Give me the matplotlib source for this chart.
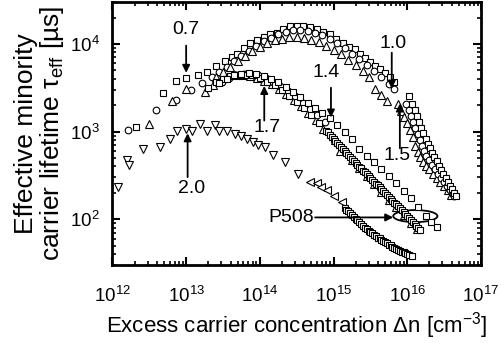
import matplotlib
matplotlib.use("Agg")
import matplotlib.pyplot as plt
import numpy as np
from matplotlib.patches import Ellipse

plt.rcParams['font.family'] = ['Liberation Sans', 'DejaVu Sans']
plt.rcParams['mathtext.fontset'] = 'custom'
plt.rcParams['mathtext.rm'] = 'Liberation Sans'
plt.rcParams['mathtext.it'] = 'Liberation Sans:italic'
plt.rcParams['mathtext.bf'] = 'Liberation Sans:bold'

# Measured lifetime curves, stored as log10 values:
# log10(excess carrier density / cm^-3), log10(lifetime / us)

# sample group labelled 0.7 -> 1.0
A_sq_x = [12.32, 12.69, 12.86, 13.00, 13.16, 13.28, 13.41, 13.53, 13.62, 13.69, 13.78, 13.87,
          13.96, 14.05, 14.14, 14.23, 14.32, 14.41, 14.50, 14.59, 14.68, 14.77, 14.86, 14.95,
          15.04, 15.13, 15.21, 15.29, 15.36, 15.43, 15.50, 15.56, 15.63, 15.70, 15.76, 15.82]
A_sq_y = [3.05, 3.44, 3.58, 3.61, 3.64, 3.68, 3.75, 3.81, 3.85, 3.89, 3.95, 4.01,
          4.05, 4.08, 4.11, 4.13, 4.17, 4.20, 4.21, 4.20, 4.19, 4.17, 4.14, 4.11,
          4.06, 4.01, 3.97, 3.94, 3.89, 3.84, 3.79, 3.75, 3.71, 3.67, 3.62, 3.57]
A_ci_x = [12.21, 12.59, 12.86, 13.07, 13.22, 13.35, 13.45, 13.55, 13.65, 13.75, 13.85, 13.95,
          14.05, 14.15, 14.25, 14.35, 14.45, 14.55, 14.65, 14.75, 14.85, 14.95, 15.05, 15.15,
          15.25, 15.35, 15.45, 15.55, 15.65, 15.75, 15.82]
A_ci_y = [3.02, 3.25, 3.36, 3.47, 3.55, 3.62, 3.68, 3.74, 3.80, 3.86, 3.92, 3.98,
          4.03, 4.07, 4.11, 4.14, 4.16, 4.16, 4.15, 4.13, 4.10, 4.06, 4.01, 3.95,
          3.89, 3.83, 3.76, 3.69, 3.62, 3.54, 3.48]
A_tr_x = [12.50, 12.81, 13.00, 13.40, 13.50, 13.60, 13.70, 13.80, 13.90, 14.00, 14.10, 14.20,
          14.30, 14.40, 14.50, 14.60, 14.70, 14.80, 14.90, 15.00, 15.10, 15.20, 15.30, 15.40,
          15.48, 15.56, 15.64, 15.72]
A_tr_y = [3.09, 3.35, 3.49, 3.62, 3.68, 3.74, 3.80, 3.86, 3.92, 3.97, 4.01, 4.04,
          4.06, 4.08, 4.08, 4.07, 4.05, 4.02, 3.98, 3.93, 3.88, 3.82, 3.76, 3.69,
          3.62, 3.49, 3.42, 3.35]

# sample group labelled 1.5 (high injection)
B_sq_x = [16.03, 16.07, 16.10, 16.13, 16.16, 16.19, 16.22, 16.25, 16.28, 16.31, 16.34, 16.37,
          16.40, 16.43, 16.46, 16.49, 16.52, 16.55, 16.58, 16.61, 16.64, 16.66]
B_sq_y = [3.40, 3.32, 3.25, 3.18, 3.11, 3.04, 2.98, 2.92, 2.86, 2.81, 2.76, 2.71,
          2.66, 2.61, 2.56, 2.51, 2.47, 2.42, 2.38, 2.34, 2.30, 2.27]
B_ci_x = [15.99, 16.02, 16.05, 16.08, 16.11, 16.14, 16.17, 16.20, 16.23, 16.26, 16.30, 16.34,
          16.38, 16.42, 16.46, 16.50, 16.54, 16.58, 16.62, 16.64]
B_ci_y = [3.31, 3.25, 3.18, 3.11, 3.04, 2.97, 2.90, 2.84, 2.78, 2.72, 2.67, 2.62,
          2.57, 2.52, 2.47, 2.42, 2.38, 2.33, 2.29, 2.26]
B_tr_x = [15.88, 15.92, 15.96, 16.00, 16.04, 16.08, 16.11, 16.14, 16.17, 16.21, 16.25, 16.30,
          16.35, 16.40, 16.45, 16.50, 16.55, 16.60]
B_tr_y = [3.31, 3.24, 3.17, 3.10, 3.02, 2.94, 2.84, 2.77, 2.71, 2.65, 2.61, 2.57,
          2.52, 2.47, 2.43, 2.38, 2.33, 2.28]

# sample group labelled 1.7 / 1.4
C_up_x = [13.45, 13.55, 13.65, 13.75, 13.85, 13.95, 14.05, 14.15, 14.25, 14.35, 14.45, 14.55,
          14.65, 14.75, 14.85, 14.95, 15.05, 15.15, 15.25, 15.35, 15.45, 15.55, 15.65, 15.75,
          15.85, 15.95, 16.05, 16.15, 16.25, 16.32, 16.40]
C_up_y = [3.55, 3.60, 3.64, 3.66, 3.67, 3.66, 3.63, 3.60, 3.56, 3.51, 3.45, 3.39,
          3.33, 3.27, 3.21, 3.15, 3.07, 2.99, 2.91, 2.80, 2.72, 2.65, 2.57, 2.49,
          2.41, 2.32, 2.24, 2.14, 2.04, 1.97, 1.91]
C_lo_x = [13.30, 13.40, 13.50, 13.60, 13.70, 13.80, 13.90, 14.00, 14.10, 14.20, 14.30, 14.40,
          14.50, 14.60, 14.70, 14.80, 14.90,
          14.925, 14.950, 14.975, 15.000, 15.025, 15.050, 15.075, 15.100, 15.125, 15.150,
          15.175, 15.200, 15.225, 15.250, 15.275, 15.300, 15.325, 15.350, 15.375, 15.400,
          15.425, 15.450, 15.475, 15.500, 15.525, 15.550, 15.575, 15.600, 15.625, 15.650,
          15.675, 15.700, 15.725, 15.750, 15.775, 15.800, 15.825, 15.850, 15.875, 15.900,
          15.925, 15.950, 15.975, 16.000, 16.025, 16.050, 16.075, 16.100, 16.125, 16.150,
          16.170]
C_lo_y = [3.50, 3.56, 3.60, 3.63, 3.65, 3.65, 3.64, 3.61, 3.57, 3.53, 3.47, 3.41,
          3.34, 3.27, 3.19, 3.10, 3.01,
          2.99, 2.965, 2.94, 2.92, 2.895, 2.87, 2.85, 2.825, 2.80, 2.78,
          2.755, 2.73, 2.71, 2.685, 2.665, 2.64, 2.62, 2.60, 2.58, 2.555,
          2.535, 2.515, 2.49, 2.47, 2.45, 2.43, 2.405, 2.385, 2.365, 2.34,
          2.32, 2.30, 2.275, 2.255, 2.235, 2.21, 2.19, 2.17, 2.145, 2.125,
          2.10, 2.08, 2.06, 2.035, 2.01, 1.99, 1.965, 1.945, 1.92, 1.90,
          1.88]
C_tr_x = [13.26, 13.36, 13.46, 13.56, 13.66, 13.76, 13.86, 13.96, 14.06, 14.16, 14.26, 14.36,
          14.46, 14.56, 14.66, 14.76, 14.86, 15.02, 15.09, 15.25, 15.35, 15.45, 15.55, 15.65,
          15.75, 15.85, 15.95, 16.05, 16.13]
C_tr_y = [3.45, 3.53, 3.58, 3.62, 3.64, 3.64, 3.63, 3.61, 3.58, 3.54, 3.49, 3.43,
          3.36, 3.29, 3.21, 3.13, 3.03, 2.90, 2.78, 2.67, 2.58, 2.49, 2.40, 2.31,
          2.22, 2.14, 2.05, 1.96, 1.89]
C_ci_x = [13.48, 13.58, 13.68, 13.78, 13.88, 13.98, 14.08, 14.18, 14.28, 14.38, 14.48, 14.58,
          14.68, 14.78, 14.88]
C_ci_y = [3.56, 3.61, 3.645, 3.66, 3.655, 3.64, 3.61, 3.57, 3.52, 3.46, 3.40, 3.33,
          3.26, 3.19, 3.11]

# sample group labelled 2.0 (P508)
D_dn_x = [12.07, 12.20, 12.22, 12.41, 12.64, 12.78, 12.87, 13.00, 13.08, 13.19, 13.28, 13.39,
          13.45, 13.56, 13.66, 13.75, 13.82, 13.91, 13.98, 14.07, 14.18, 14.34, 14.52]
D_dn_y = [2.37, 2.68, 2.62, 2.80, 2.82, 2.91, 3.01, 3.03, 3.01, 3.09, 3.01, 3.07,
          3.01, 3.01, 2.97, 2.95, 2.92, 2.88, 2.85, 2.82, 2.73, 2.65, 2.52]
D_lt_x = [14.68, 14.77, 14.83, 14.91, 15.00, 15.11]
D_lt_y = [2.42, 2.41, 2.37, 2.33, 2.27, 2.20]
D_dm_x = [15.150, 15.175, 15.200, 15.225, 15.250, 15.275, 15.300, 15.325, 15.350, 15.375,
          15.400, 15.425, 15.450, 15.475, 15.500, 15.525, 15.550, 15.575, 15.600, 15.625,
          15.650, 15.675, 15.700, 15.725, 15.750, 15.775, 15.800, 15.825, 15.850, 15.875,
          15.900, 15.925, 15.950, 15.975, 16.000, 16.025, 16.060]
D_dm_y = [2.13, 2.11, 2.09, 2.065, 2.045, 2.025, 2.005, 1.985, 1.965, 1.945,
          1.925, 1.905, 1.89, 1.87, 1.855, 1.84, 1.82, 1.805, 1.79, 1.78,
          1.765, 1.75, 1.735, 1.725, 1.71, 1.70, 1.685, 1.675, 1.665, 1.65,
          1.64, 1.63, 1.62, 1.61, 1.60, 1.59, 1.575]

# curve labels: text, text position, arrow tail, arrow tip (log10 coords)
labels = ["0.7", "1.0", "1.4", "1.5", "1.7", "2.0"]
label_pos = [(13.0, 4.17), (15.81, 4.01), (14.90, 3.67), (15.86, 2.73), (14.10, 3.05), (13.07, 2.35)]
arrow_tail = [(13.0, 3.98), (15.79, 3.90), (14.965, 3.50), (15.90, 2.81), (14.06, 3.125), (13.02, 2.48)]
arrow_tip = [(13.0, 3.67), (15.79, 3.49), (14.965, 3.16), (15.90, 3.32), (14.06, 3.52), (13.02, 2.98)]

fig = plt.figure(figsize=(5.02, 3.51), dpi=100)
ax = fig.add_axes([0.224, 0.245, 0.734, 0.749])
ax.set_xscale('log')
ax.set_yscale('log')

def pts(lx, ly):
    return np.power(10.0, lx), np.power(10.0, ly)

mk = dict(linestyle='none', markerfacecolor='white', markeredgecolor='black',
          markeredgewidth=0.8)
series = [
    (A_sq_x, A_sq_y, 's', 4.6), (A_ci_x, A_ci_y, 'o', 4.8), (A_tr_x, A_tr_y, '^', 5.2),
    (B_tr_x, B_tr_y, '^', 5.2), (B_ci_x, B_ci_y, 'o', 4.8), (B_sq_x, B_sq_y, 's', 4.6),
    (C_tr_x, C_tr_y, '^', 5.2), (C_ci_x, C_ci_y, 'o', 4.8), (C_lo_x, C_lo_y, 's', 4.8),
    (C_up_x, C_up_y, 's', 4.6),
    (D_dn_x, D_dn_y, 'v', 5.4), (D_lt_x, D_lt_y, '<', 5.2), (D_dm_x, D_dm_y, 's', 4.8),
]
for lx, ly, m, s in series:
    x, y = pts(lx, ly)
    ax.plot(x, y, marker=m, markersize=s, **mk)

for t, p, a0, a1 in zip(labels, label_pos, arrow_tail, arrow_tip):
    ax.text(10 ** p[0], 10 ** p[1], t, fontsize=14, ha='center', va='center')
    ax.annotate('', xy=(10 ** a1[0], 10 ** a1[1]), xytext=(10 ** a0[0], 10 ** a0[1]),
                arrowprops=dict(arrowstyle='-|>', color='black', lw=1.3,
                                mutation_scale=11, shrinkA=0, shrinkB=0))

# P508 marker: label, arrow and ellipse around the curve ends
ax.text(10 ** 14.74, 10 ** 2.02, "P508", fontsize=14, ha='right', va='center')
ax.annotate('', xy=(10 ** 15.81, 10 ** 2.02), xytext=(10 ** 14.75, 10 ** 2.02),
            arrowprops=dict(arrowstyle='-|>', color='black', lw=1.3,
                            mutation_scale=11, shrinkA=0, shrinkB=0))
ax.add_patch(Ellipse((0.822, 0.186), 0.12, 0.046, angle=0, transform=ax.transAxes,
                     fill=False, edgecolor='black', lw=1.3))

ax.set_xlim(1e12, 1e17)
ax.set_ylim(30, 3e4)

for sp in ax.spines.values():
    sp.set_linewidth(2.0)
ax.tick_params(which='both', direction='in', top=True, right=True, labelsize=13.5)
ax.tick_params(which='major', length=6, width=1.5)
ax.tick_params(which='minor', length=3, width=1.2)
ax.tick_params(axis='x', which='major', pad=15)
ax.tick_params(axis='y', which='major', pad=9)

ax.set_xlabel('Excess carrier concentration \u0394n [cm$^{-3}$]', fontsize=16, labelpad=3)
ax.set_ylabel('Effective minority\ncarrier lifetime \u03c4$_{\\mathregular{eff}}$ [\u00b5s]',
              fontsize=19, labelpad=3, linespacing=1.0)

fig.savefig('out.png', dpi=100)
